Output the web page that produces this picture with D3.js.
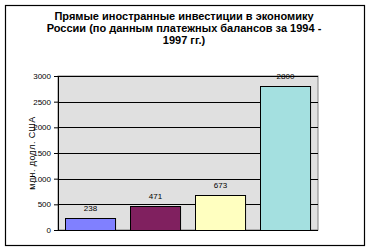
<!DOCTYPE html>
<html>
<head>
<meta charset="utf-8">
<script src="https://cdn.jsdelivr.net/npm/d3@7"></script>
<style>
  body { margin: 0; background: #fff; }
  text { font-family: Arial, "Liberation Sans", sans-serif; fill: #000; }
</style>
</head>
<body>
<div id="chart"></div>
<script>
// Data
const years = ["1994", "1995", "1996", "1997"];
const values = [238, 471, 673, 2800];
const valueLabels = ["238", "471", "673", "2800"];
const barColors = ["#8080ff", "#80205f", "#ffffc0", "#a4e0e0"];
const yTicks = [0, 500, 1000, 1500, 2000, 2500, 3000];
const titleLines = [
    "Прямые иностранные инвестиции в экономику",
    "России (по данным платежных балансов за 1994 -",
    "1997 гг.)"
];
const yLabel = "млн. долл. США";

const W = 370, H = 251;
const margin = { top: 76, right: 52, bottom: 21, left: 58 };
const width = W - margin.left - margin.right;
const height = H - margin.top - margin.bottom;

let svg = d3.select("#chart").append("svg")
    .attr("width", W)
    .attr("height", H);

// outer frame
svg.append("rect")
    .attr("x", 5.5).attr("y", 5.5)
    .attr("width", 359).attr("height", 240)
    .attr("fill", "#fff")
    .attr("stroke", "#000")
    .attr("stroke-width", 1.2);

// title
svg.append("g").selectAll("text")
    .data(titleLines)
    .enter().append("text")
    .attr("x", 184)
    .attr("y", (d, i) => 20 + i * 12)
    .attr("text-anchor", "middle")
    .style("font-size", "11px")
    .style("font-weight", "bold")
    .text(d => d);

let g = svg.append("g")
    .attr("transform", "translate(" + margin.left + "," + margin.top + ")");

let x = d3.scaleBand().domain(years).range([0, width]).paddingInner(0.23).paddingOuter(0.115);
let y = d3.scaleLinear().domain([0, 3000]).range([height, 0]);

// plot area
g.append("rect")
    .attr("width", width).attr("height", height)
    .attr("fill", "#e0e0e0")
    .attr("stroke", "#808080");

// gridlines
g.selectAll(".grid")
    .data(yTicks.filter(d => d > 0))
    .enter().append("line")
    .attr("x1", 0).attr("x2", width)
    .attr("y1", d => Math.round(y(d)) + 0.5)
    .attr("y2", d => Math.round(y(d)) + 0.5)
    .attr("stroke", "#000");

// y axis
let yAxis = d3.axisLeft(y).tickValues(yTicks).tickFormat(d3.format("d")).tickSize(4).tickPadding(3);
let ya = g.append("g").call(yAxis);
ya.select(".domain").attr("d", "M-4," + (height + 0.5) + "H0.5V0");
ya.selectAll("line").attr("stroke", "#000");
ya.selectAll("text").style("font-size", "8px").style("font-family", "Arial");

// x baseline
g.append("line")
    .attr("x1", 0).attr("x2", width)
    .attr("y1", height + 0.5).attr("y2", height + 0.5)
    .attr("stroke", "#000");

// bars
g.selectAll(".bar")
    .data(values)
    .enter().append("rect")
    .attr("class", "bar")
    .attr("x", (d, i) => Math.round(x(years[i])) + 0.5)
    .attr("y", d => Math.round(y(d)) + 0.5)
    .attr("width", x.bandwidth())
    .attr("height", d => height - Math.round(y(d)))
    .attr("fill", (d, i) => barColors[i])
    .attr("stroke", "#000");

// value labels
g.selectAll(".val")
    .data(values)
    .enter().append("text")
    .attr("x", (d, i) => x(years[i]) + x.bandwidth() / 2)
    .attr("y", d => y(d) - 7)
    .attr("text-anchor", "middle")
    .style("font-size", "8px")
    .text((d, i) => valueLabels[i]);

// y axis title
svg.append("text")
    .attr("transform", "translate(35,153) rotate(-90)")
    .attr("text-anchor", "middle")
    .style("font-size", "9px")
    .style("letter-spacing", "0.4px")
    .text(yLabel);
</script>
</body>
</html>
